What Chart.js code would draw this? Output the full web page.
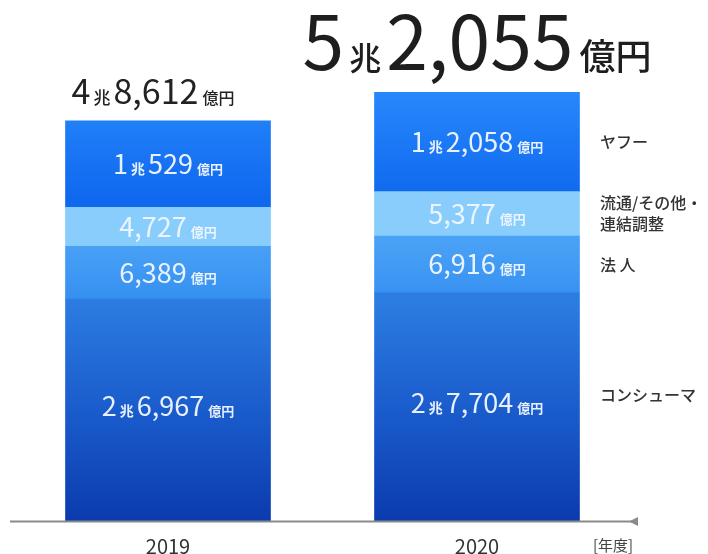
<!DOCTYPE html>
<html lang="ja">
<head>
<meta charset="utf-8">
<script src="https://cdn.jsdelivr.net/npm/chart.js@4/dist/chart.umd.min.js"></script>
<style>
  html, body { margin: 0; padding: 0; background: #ffffff; }
  #wrap { width: 708px; height: 554px; position: relative; }
</style>
</head>
<body>
<div id="wrap"><canvas id="c" width="708" height="554"></canvas></div>
<script>
// 売上収益（億円）
const years = ['2019', '2020'];
const consumer = [26967, 27704];
const corporate = [6389, 6916];
const distribution = [4727, 5377];
const yahoo = [10529, 12058];
const segmentNames = ['コンシューマ', '法 人', ['流通/その他・', '連結調整'], 'ヤフー'];
const yearUnit = '[年度]';

const JP = '"Noto Sans CJK JP", "Noto Sans", sans-serif';

// Split 億円 value into 兆 / 億 parts
function amountParts(v, big, small, unit, unitWeight, gap) {
  const g = gap || 3;
  const cho = Math.floor(v / 10000);
  const oku = v % 10000;
  const parts = [];
  if (cho > 0) {
    parts.push({ t: String(cho), size: big, w: 400 });
    parts.push({ t: '兆', size: small, w: unitWeight, gap: g });
  }
  parts.push({ t: oku.toLocaleString('en-US'), size: big, w: 400, gap: cho > 0 ? g : 0 });
  parts.push({ t: '億円', size: unit, w: unitWeight, gap: g + 1 });
  return parts;
}

function drawParts(ctx, parts, cx, baseline, color) {
  let total = 0;
  parts.forEach(p => {
    ctx.font = p.w + ' ' + p.size + 'px ' + JP;
    p.width = ctx.measureText(p.t).width;
    total += p.width + (p.gap || 0);
  });
  let x = cx - total / 2;
  ctx.fillStyle = color;
  ctx.textAlign = 'left';
  ctx.textBaseline = 'alphabetic';
  parts.forEach(p => {
    x += (p.gap || 0);
    ctx.font = p.w + ' ' + p.size + 'px ' + JP;
    ctx.fillText(p.t, x, baseline);
    x += p.width;
  });
}

function vGrad(chart, stops) {
  const ctx = chart.ctx;
  const y = chart.scales.y;
  if (!y || !chart.chartArea) return stops[0][1];
  const g = ctx.createLinearGradient(0, y.getPixelForValue(stops[0][0]), 0, y.getPixelForValue(stops[stops.length - 1][0]));
  stops.forEach((s, i) => g.addColorStop(i / (stops.length - 1), s[1]));
  return g;
}

const labelsPlugin = {
  id: 'segmentLabels',
  afterDatasetsDraw(chart) {
    const ctx = chart.ctx;
    const y = chart.scales.y;
    ctx.save();

    // base axis with arrow head
    const axisY = y.getPixelForValue(0) + 0.5;
    ctx.strokeStyle = '#8a8a8a';
    ctx.lineWidth = 2;
    ctx.beginPath();
    ctx.moveTo(10, axisY);
    ctx.lineTo(634, axisY);
    ctx.stroke();
    ctx.fillStyle = '#8a8a8a';
    ctx.beginPath();
    ctx.moveTo(629, axisY);
    ctx.lineTo(638, axisY - 4.5);
    ctx.lineTo(638, axisY + 4.5);
    ctx.closePath();
    ctx.fill();

    // values inside each segment
    const offsets = [-4, 0, 0, 0];
    chart.data.datasets.forEach((ds, di) => {
      const meta = chart.getDatasetMeta(di);
      meta.data.forEach((bar, i) => {
        const mid = (bar.y + bar.base) / 2 + offsets[di];
        const parts = amountParts(ds.data[i], 27, 14, 13, 700, 3);
        drawParts(ctx, parts, bar.x, mid + 10, 'rgba(240,247,255,0.96)');
      });
    });

    // totals above the bars
    const top = chart.getDatasetMeta(chart.data.datasets.length - 1);
    years.forEach((yr, i) => {
      const sum = chart.data.datasets.reduce((a, d) => a + d.data[i], 0);
      const bar = top.data[i];
      if (i === 0) {
        drawParts(ctx, amountParts(sum, 34, 17, 16, 500, 3), bar.x - 15, bar.y - 17, '#222222');
      } else {
        drawParts(ctx, amountParts(sum, 75, 32, 36, 500, 5), bar.x, bar.y - 22, '#1e1e1e');
      }
    });

    // segment names to the right of the last bar
    ctx.fillStyle = '#333333';
    ctx.font = '500 16px ' + JP;
    ctx.textAlign = 'left';
    ctx.textBaseline = 'middle';
    const nameOffsets = [-12, 0, 0, 0];
    segmentNames.forEach((name, di) => {
      const bar = chart.getDatasetMeta(di).data[1];
      const mid = (bar.y + bar.base) / 2 + nameOffsets[di];
      const lines = Array.isArray(name) ? name : [name];
      const lh = 21;
      lines.forEach((ln, k) => {
        ctx.fillText(ln, 600, mid - (lines.length - 1) * lh / 2 + k * lh);
      });
    });

    // year unit
    ctx.font = '400 15px ' + JP;
    ctx.fillStyle = '#444444';
    ctx.fillText(yearUnit, 593, 545);
    ctx.restore();
  }
};

new Chart(document.getElementById('c'), {
  type: 'bar',
  data: {
    labels: years,
    datasets: [
      { label: 'コンシューマ', data: consumer,
        backgroundColor: c => vGrad(c.chart, [[27000, '#2c7de2'], [13000, '#1a5ccc'], [0, '#0b3bae']]) },
      { label: '法人', data: corporate,
        backgroundColor: c => vGrad(c.chart, [[34000, '#4aa2f6'], [27000, '#3690f0']]) },
      { label: '流通/その他・連結調整', data: distribution, backgroundColor: '#88cdfc' },
      { label: 'ヤフー', data: yahoo,
        backgroundColor: c => vGrad(c.chart, [[52000, '#2787fb'], [39000, '#0f68ee']]) }
    ]
  },
  options: {
    responsive: false,
    animation: false,
    layout: { padding: { top: 27, left: 168, right: 231, bottom: 0 } },
    datasets: { bar: { barThickness: 205, borderWidth: 0, clip: false } },
    plugins: { legend: { display: false }, tooltip: { enabled: false } },
    scales: {
      x: {
        stacked: true,
        offset: false,
        grid: { display: false, drawTicks: false },
        border: { display: false },
        ticks: { padding: 13, color: '#333333', font: { family: JP, size: 20 } },
        afterFit: s => { s.height = 33; }
      },
      y: {
        stacked: true,
        display: false,
        min: 0,
        max: 60000
      }
    }
  },
  plugins: [labelsPlugin]
});
</script>
</body>
</html>
